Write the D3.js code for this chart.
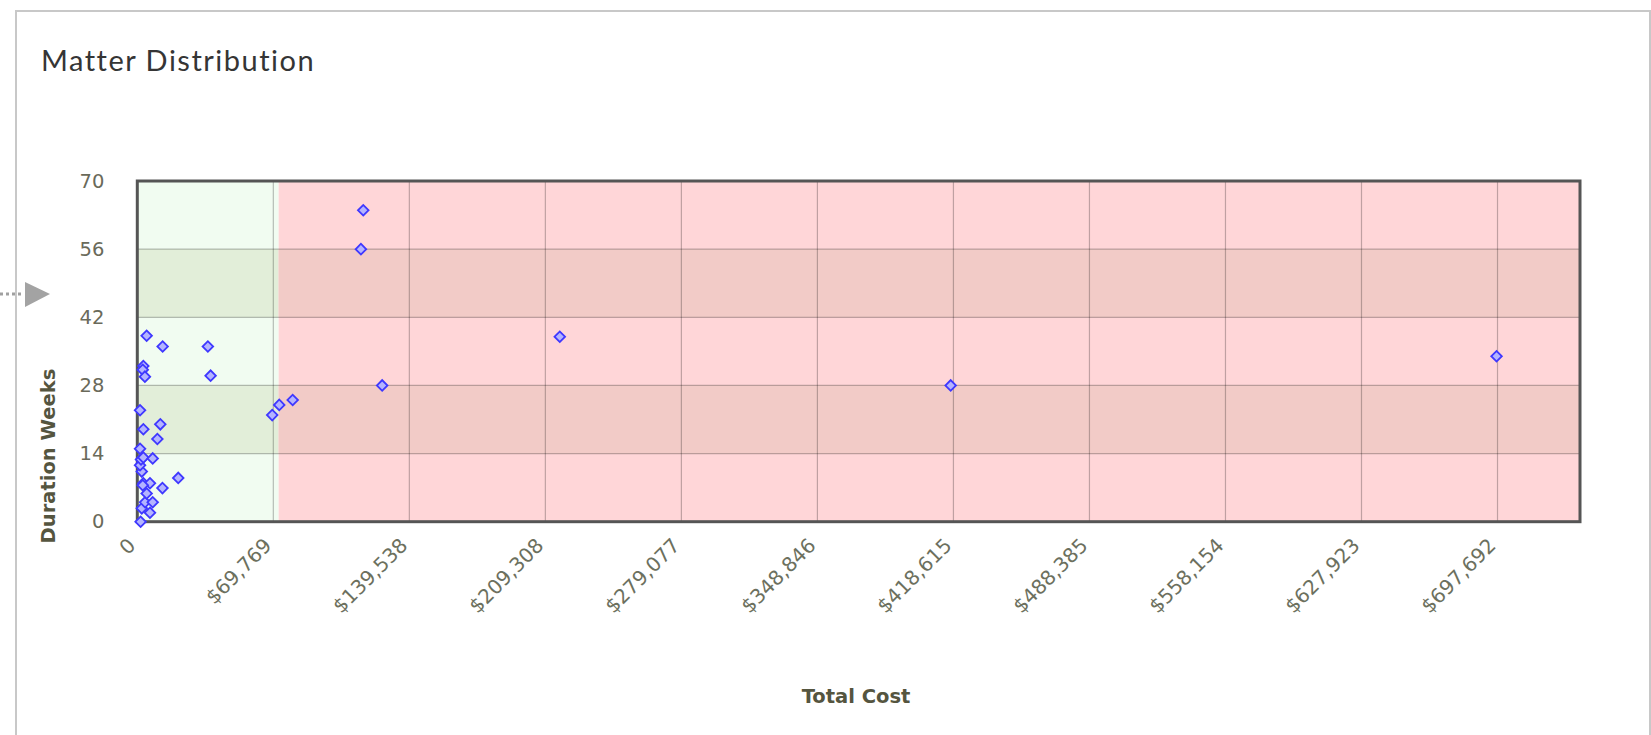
<!DOCTYPE html>
<html lang="en">
<head>
  <meta charset="utf-8">
  <title>Matter Distribution</title>
  <style>
    body { margin:0; background:#fff; }
    svg  { display:block; }
  </style>
</head>
<body>
<script src="https://d3js.org/d3.v7.min.js"></script>
<script>

// -- data: [total cost, duration weeks] --
const costs = [1700, 2300, 6500, 4000, 7900, 4800, 3100, 6500, 2800, 12900, 21000, 2300, 1400, 1900,
               3100, 7900, 1400, 10300, 3100, 11800, 1400, 3100, 2800, 3900, 4800, 13000, 36200,
               37600, 69200, 72800, 79700, 114700, 115900, 125600, 216700, 417200, 697200];
const weeks = [0, 2.75, 1.85, 4, 4, 5.8, 7.9, 7.9, 7.5, 6.9, 9, 10.3, 11.6, 12.8,
               13.2, 13, 15, 17, 19, 20, 22.9, 32, 31.2, 29.8, 38.2, 36, 36,
               30, 21.9, 24, 25, 56, 64, 28, 38, 28, 34];
const xTicks = [0, 69769, 139538, 209308, 279077, 348846, 418615, 488385, 558154, 627923, 697692];
const yTicks = [0, 14, 28, 42, 56, 70];
const costLimit = 72500;   // green "ok" zone ends here
const bands = [[14, 28], [42, 56]];

const points = costs.map((c, i) => ({ cost: c, weeks: weeks[i] }));

const width = 1651, height = 735;
const plot = { left: 137.3, right: 1580, top: 181, bottom: 521.7 };
const xMax = 740000;

const svg = d3.select("body").append("svg")
  .attr("width", width)
  .attr("height", height);

// panel frame
svg.append("rect")
  .attr("x", 16).attr("y", 11)
  .attr("width", 1634).attr("height", 760)
  .attr("fill", "#fff")
  .attr("stroke", "#c8c8c8")
  .attr("stroke-width", 2);

// pointer arrow on the left
svg.append("line")
  .attr("x1", 0).attr("x2", 24).attr("y1", 294).attr("y2", 294)
  .attr("stroke", "#a0a0a0").attr("stroke-width", 3)
  .attr("stroke-dasharray", "3,3");
svg.append("path")
  .attr("d", "M25,282L50,294L25,307Z")
  .attr("fill", "#a3a3a3");

svg.append("text")
  .attr("x", 41).attr("y", 71)
  .style("font", "29px Lato, sans-serif")
  .style("letter-spacing", "1.5px")
  .attr("fill", "#353535")
  .text("Matter Distribution");

const x = d3.scaleLinear().domain([0, xMax]).range([plot.left, plot.right]);
const y = d3.scaleLinear().domain([0, 70]).range([plot.bottom, plot.top]);

// zones: [from, to, base colour, band colour]
const zones = [
  [0, costLimit, "#f1fcf1", "#e2eed9"],
  [costLimit, xMax, "#ffd6d8", "#f2cbc7"]
];
const zg = svg.append("g");
zones.forEach(z => {
  zg.append("rect")
    .attr("x", x(z[0])).attr("y", y(70))
    .attr("width", x(z[1]) - x(z[0])).attr("height", y(0) - y(70))
    .attr("fill", z[2]);
  zg.selectAll(null)
    .data(bands)
    .join("rect")
      .attr("x", x(z[0]))
      .attr("y", d => y(d[1]))
      .attr("width", x(z[1]) - x(z[0]))
      .attr("height", d => y(d[0]) - y(d[1]))
      .attr("fill", z[3]);
});

// grid
const grid = svg.append("g")
  .attr("stroke", "#000")
  .attr("stroke-opacity", 0.25)
  .attr("stroke-width", 1.2);
grid.selectAll("line.v")
  .data(xTicks.slice(1))
  .join("line")
    .attr("class", "v")
    .attr("x1", d => x(d)).attr("x2", d => x(d))
    .attr("y1", y(70)).attr("y2", y(0));
grid.selectAll("line.h")
  .data(yTicks.slice(1, -1))
  .join("line")
    .attr("class", "h")
    .attr("x1", x(0)).attr("x2", x(xMax))
    .attr("y1", d => y(d)).attr("y2", d => y(d));

// plot frame
svg.append("rect")
  .attr("x", plot.left).attr("y", plot.top)
  .attr("width", plot.right - plot.left).attr("height", plot.bottom - plot.top)
  .attr("fill", "none")
  .attr("stroke", "#555")
  .attr("stroke-width", 3);

// axes
const fmt = d3.format(",");
const xAxis = svg.append("g")
  .attr("transform", `translate(0,${plot.bottom})`)
  .call(d3.axisBottom(x).tickValues(xTicks).tickSize(0)
    .tickFormat(d => d === 0 ? "0" : "$" + fmt(d)));
xAxis.select(".domain").remove();
xAxis.selectAll("text")
  .attr("x", 0).attr("y", 0).attr("dy", 0)
  .attr("transform", "translate(-1,25) rotate(-45)")
  .attr("text-anchor", "end")
  .attr("fill", "#6c705e")
  .style("font", "20px 'DejaVu Sans', sans-serif");

const yAxis = svg.append("g")
  .attr("transform", `translate(${plot.left},0)`)
  .call(d3.axisLeft(y).tickValues(yTicks).tickSize(0).tickPadding(33));
yAxis.select(".domain").remove();
yAxis.selectAll("text")
  .attr("fill", "#6a6a5a")
  .style("font", "19.5px 'DejaVu Sans', sans-serif");

// axis titles
svg.append("text")
  .attr("transform", "translate(55,456) rotate(-90)")
  .attr("text-anchor", "middle")
  .attr("fill", "#55553f")
  .style("font", "bold 19.5px 'DejaVu Sans', sans-serif")
  .text("Duration Weeks");

svg.append("text")
  .attr("x", 856).attr("y", 703)
  .attr("text-anchor", "middle")
  .attr("fill", "#55553f")
  .style("font", "bold 19.5px 'DejaVu Sans', sans-serif")
  .text("Total Cost");

// points
svg.append("g")
  .selectAll("path")
  .data(points)
  .join("path")
    .attr("d", d3.symbol(d3.symbolSquare, 56))
    .attr("transform", d => `translate(${x(d.cost)},${y(d.weeks)}) rotate(45)`)
    .attr("fill", "#b4b4ff")
    .attr("stroke", "#3f38ff")
    .attr("stroke-width", 1.8);

</script>
</body>
</html>
